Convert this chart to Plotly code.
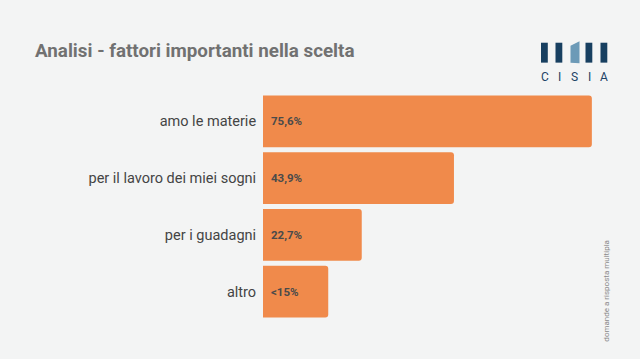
import plotly.graph_objects as go

categories = ["amo le materie", "per il lavoro dei miei sogni", "per i guadagni", "altro"]
values = [75.6, 43.9, 22.7, 15.0]
value_labels = ["75,6%", "43,9%", "22,7%", "<15%"]
title_text = "Analisi - fattori importanti nella scelta"
note_text = "domande a risposta multipla"
logo_letters = ["C", "I", "S", "I", "A"]

W, H = 640, 359
L, R, T, B = 263, 40, 92.5, 38.5
PW, PH = W - L - R, H - T - B
PX_PER_UNIT = 4.35


def px(x):
    return (x - L) / PW


def py(y):
    return (H - B - y) / PH


fig = go.Figure()
fig.add_trace(go.Bar(
    x=values, y=categories, orientation="h",
    marker=dict(color="#F08A4B", line=dict(width=0)),
    hoverinfo="skip",
))

annotations = []
for c, lab in zip(categories, value_labels):
    annotations.append(dict(
        x=0, y=c, xref="x", yref="y", text=lab, showarrow=False,
        xanchor="left", yanchor="middle", xshift=6,
        font=dict(family="Roboto", size=11.5, color="#4a4a4a", weight="bold"),
    ))

annotations.append(dict(
    x=px(33), y=py(50), xref="paper", yref="paper", text=title_text,
    showarrow=False, xanchor="left", yanchor="middle",
    font=dict(family="Roboto", size=18.8, color="#717171", weight="bold"),
))

annotations.append(dict(
    x=px(607), y=py(291), xref="paper", yref="paper", text=note_text,
    showarrow=False, xanchor="center", yanchor="middle", textangle=-90,
    font=dict(family="Roboto", size=8, color="#8a8a8a"),
))

letter_x = [544.5, 559, 574.5, 589, 604]
for lx, ch in zip(letter_x, logo_letters):
    annotations.append(dict(
        x=px(lx), y=py(76.5), xref="paper", yref="paper", text=ch,
        showarrow=False, xanchor="center", yanchor="middle",
        font=dict(family="Roboto", size=12, color="#1c4264"),
    ))

shapes = []
navy = "#173F60"
for x0 in [541, 555.5, 585.5, 600.5]:
    shapes.append(dict(type="rect", xref="paper", yref="paper",
                       x0=px(x0), x1=px(x0 + 6.8), y0=py(62), y1=py(42),
                       fillcolor=navy, line=dict(width=0), layer="above"))
pts = [(570.5, 45), (579.5, 40.5), (579.5, 62.5), (570.5, 62)]
path = "M " + " L ".join(f"{px(a)},{py(b)}" for a, b in pts) + " Z"
shapes.append(dict(type="path", xref="paper", yref="paper", path=path,
                   fillcolor="#6C9AB7", line=dict(width=0), layer="above"))

fig.update_layout(
    width=W, height=H,
    margin=dict(l=L, r=R, t=T, b=B, pad=0),
    paper_bgcolor="#F3F4F4", plot_bgcolor="#F3F4F4",
    bargap=5 / 57,
    barcornerradius=3,
    showlegend=False,
    xaxis=dict(range=[0, PW / PX_PER_UNIT], visible=False, fixedrange=True),
    yaxis=dict(
        categoryorder="array", categoryarray=categories,
        range=[3.5, -0.5], showgrid=False, zeroline=False, showline=False,
        ticks="outside", ticklen=3, tickcolor="rgba(0,0,0,0)",
        tickfont=dict(family="Roboto", size=14.5, color="#444444"),
    ),
    annotations=annotations,
    shapes=shapes,
)

fig.write_html("out.html", config={"displayModeBar": False},
               post_script="document.body.style.margin='0';document.body.style.overflow='hidden';")
